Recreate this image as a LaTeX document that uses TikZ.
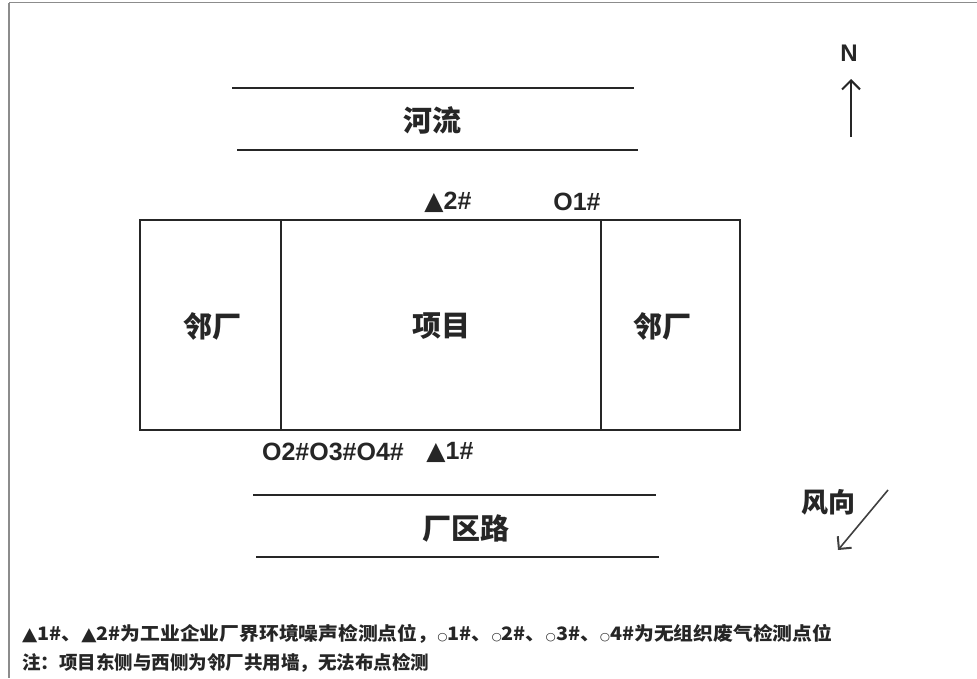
\documentclass[tikz,border=0pt]{standalone}
\usepackage{fontspec}
\setmainfont{Liberation Sans}
\newfontfamily\cjk{Noto Sans CJK SC}
\newfontfamily\sym{DejaVu Sans}
\usetikzlibrary{arrows.meta}
\tikzset{
  frame/.style={draw=black!45, line width=1.5pt},
  hline/.style={draw=black!85, line width=1.8pt},
  box/.style={draw=black!85, line width=2pt},
  cjklabel/.style={font=\cjk\bfseries\fontsize{29}{29}\selectfont, text=black!85, inner sep=0pt},
  pt/.style={font=\bfseries\fontsize{25}{25}\selectfont, text=black!85, inner sep=0pt},
  note/.style={font=\cjk\bfseries\fontsize{18.5}{18.5}\selectfont, text=black!85, inner sep=0pt, anchor=west},
  arr/.style={draw=black!85, line width=2pt, -{Straight Barb[length=9pt,width=18pt,line width=2pt]}}
}
\newcommand{\smallcirc}{{\sym\fontsize{11}{11}\selectfont ○}}
\begin{document}
\begin{tikzpicture}[x=1pt,y=-1pt]
\useasboundingbox (0,0) rectangle (977,678);
\fill[white] (0,0) rectangle (977,678);
% frame
\draw[frame] (9,2.5) -- (977,2.5);
\draw[frame] (9,2.5) -- (9,678);
% river
\coordinate (r1a) at (232,88); \coordinate (r1b) at (634,88);
\coordinate (r2a) at (237,150); \coordinate (r2b) at (638,150);
\draw[hline] (r1a) -- (r1b);
\draw[hline] (r2a) -- (r2b);
\node[cjklabel] (river) at (432,120) {河流};
% site
\node[box, minimum width=600pt, minimum height=210pt, inner sep=0pt] (site) at (440,325) {};
\coordinate (d1a) at (281,220); \coordinate (d1b) at (281,430);
\coordinate (d2a) at (601,220); \coordinate (d2b) at (601,430);
\draw[box] (d1a) -- (d1b);
\draw[box] (d2a) -- (d2b);
\node[cjklabel] (west) at (212,326) {邻厂};
\node[cjklabel] (proj) at (441,326) {项目};
\node[cjklabel] (east) at (662,326) {邻厂};
% points
\node[pt] (p2) at (448,202) {{\sym▲}2\#};
\node[pt] (p1) at (577,202) {O1\#};
\node[pt] (pb) at (333,452) {O2\#O3\#O4\#};
\node[pt] (p1b) at (450,452) {{\sym▲}1\#};
% road
\coordinate (s1a) at (253,495); \coordinate (s1b) at (656,495);
\coordinate (s2a) at (256,557); \coordinate (s2b) at (659,557);
\draw[hline] (s1a) -- (s1b);
\draw[hline] (s2a) -- (s2b);
\node[cjklabel] (road) at (466,528) {厂区路};
% north
\node[pt, font=\bfseries\fontsize{24}{24}\selectfont] (N) at (849,53) {N};
\coordinate (na) at (851,137); \coordinate (nb) at (851,79);
\draw[arr] (na) -- (nb);
% wind
\node[cjklabel, font=\cjk\bfseries\fontsize{27}{27}\selectfont] (wind) at (828,502) {风向};
\coordinate (wa) at (888,490); \coordinate (wb) at (838,550);
\draw[arr, line width=1.6pt, draw=black!75] (wa) -- (wb);
% notes
\node[note] (n1) at (22,634) {\scalebox{1.07}[1]{{\sym▲}1\#、{\sym▲}2\#为工业企业厂界环境噪声检测点位，\smallcirc1\#、\smallcirc2\#、\smallcirc3\#、\smallcirc4\#为无组织废气检测点位}};
\node[note] (n2) at (22,663) {注：项目东侧与西侧为邻厂共用墙，无法布点检测};
\end{tikzpicture}
\end{document}
